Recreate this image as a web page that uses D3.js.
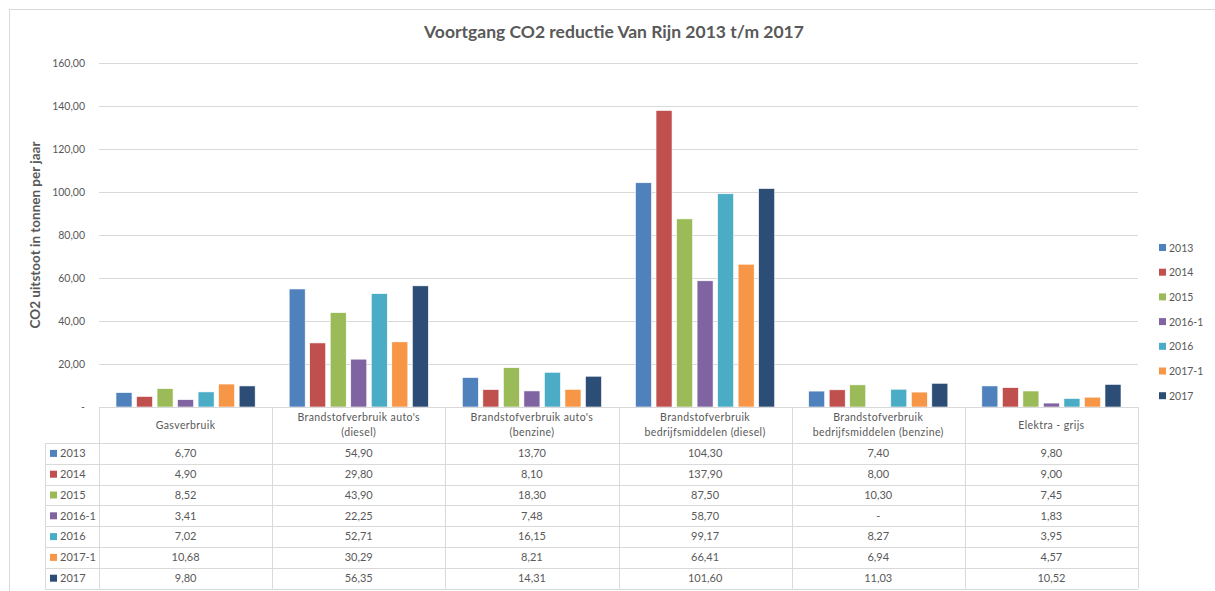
<!DOCTYPE html>
<html>
<head>
<meta charset="utf-8">
<title>Voortgang CO2 reductie Van Rijn 2013 t/m 2017</title>
<script src="https://cdnjs.cloudflare.com/ajax/libs/d3/7.8.5/d3.min.js"></script>
<style>
  body { margin: 0; background: #fff; }
  svg { font-family: Lato, "Open Sans", sans-serif; }
</style>
</head>
<body>
<div id="chart"></div>
<script>
// data
var categories = [
  ["Gasverbruik"],
  ["Brandstofverbruik auto's", "(diesel)"],
  ["Brandstofverbruik auto's", "(benzine)"],
  ["Brandstofverbruik", "bedrijfsmiddelen (diesel)"],
  ["Brandstofverbruik", "bedrijfsmiddelen (benzine)"],
  ["Elektra - grijs"]
]
var seriesNames = ["2013", "2014", "2015", "2016-1", "2016", "2017-1", "2017"]
var v2013  = [6.70, 54.90, 13.70, 104.30, 7.40, 9.80]
var v2014  = [4.90, 29.80, 8.10, 137.90, 8.00, 9.00]
var v2015  = [8.52, 43.90, 18.30, 87.50, 10.30, 7.45]
var v20161 = [3.41, 22.25, 7.48, 58.70, null, 1.83]
var v2016  = [7.02, 52.71, 16.15, 99.17, 8.27, 3.95]
var v20171 = [10.68, 30.29, 8.21, 66.41, 6.94, 4.57]
var v2017  = [9.80, 56.35, 14.31, 101.60, 11.03, 10.52]
var yTicks = [0, 20, 40, 60, 80, 100, 120, 140, 160]

var series = [v2013, v2014, v2015, v20161, v2016, v20171, v2017]
var colors = ["#4F81BD", "#C0504D", "#9BBB59", "#8064A2", "#4BACC6", "#F79646", "#2C4D75"]

var W = 1215, H = 591
var plotL = 99, plotR = 1138, plotT = 63, zeroY = 407
var rowH = 20.8, headH = 36

var svg = d3.select("#chart").append("svg")
  .attr("width", W).attr("height", H)

// chart frame
svg.append("rect").attr("x", 9.5).attr("y", 9.5).attr("width", 1220).attr("height", 600)
  .attr("fill", "none").attr("stroke", "#d9d9d9")

svg.append("text").attr("x", 614).attr("y", 38).attr("text-anchor", "middle")
  .style("font-size", "17.5px").style("font-weight", "bold").attr("fill", "#595959")
  .text("Voortgang CO2 reductie Van Rijn 2013 t/m 2017")

// scales
var y = d3.scaleLinear().domain([0, 160]).range([zeroY, plotT])
var x0 = d3.scaleBand().domain(d3.range(categories.length)).range([plotL, plotR])
var x1 = d3.scaleBand().domain(d3.range(seriesNames.length))
  .range([17, x0.bandwidth() - 17]).paddingInner(0.22)

// gridlines
svg.append("g").selectAll("line").data(yTicks.slice(1)).enter().append("line")
  .attr("x1", plotL).attr("x2", plotR)
  .attr("y1", function (d) { return Math.round(y(d)) + 0.5 })
  .attr("y2", function (d) { return Math.round(y(d)) + 0.5 })
  .attr("stroke", "#d9d9d9").attr("stroke-width", 1)

// y axis labels
var yAxis = d3.axisLeft(y).tickValues(yTicks).tickSize(0).tickPadding(14)
  .tickFormat(function (d) { return d === 0 ? "-" : d3.format(".2f")(d).replace(".", ",") })
var ya = svg.append("g").attr("transform", "translate(" + plotL + ",0)").call(yAxis)
ya.select(".domain").remove()
ya.selectAll("text").attr("fill", "#595959").style("font-size", "10.5px")
  .style("font-family", "Lato, sans-serif")

svg.append("text")
  .attr("transform", "translate(40," + ((plotT + zeroY) / 2) + ") rotate(-90)")
  .attr("text-anchor", "middle").style("font-size", "13.5px").style("font-weight", "bold")
  .attr("fill", "#595959").text("CO2 uitstoot in tonnen per jaar")

// bars
series.forEach(function (vals, si) {
  var pts = vals.map(function (v, i) { return { v: v, i: i } })
    .filter(function (d) { return d.v != null })
  svg.append("g").selectAll("rect").data(pts).enter()
    .append("rect")
    .attr("x", function (d) { return x0(d.i) + x1(si) })
    .attr("y", function (d) { return y(d.v) })
    .attr("width", x1.bandwidth())
    .attr("height", function (d) { return zeroY - y(d.v) })
    .attr("fill", colors[si])
    .attr("stroke", "#fff").attr("stroke-width", 0.6)
})

// legend
var lg = svg.append("g")
seriesNames.forEach(function (n, i) {
  var ly = 248 + i * 24.7
  lg.append("rect").attr("x", 1159).attr("y", ly - 4).attr("width", 7).attr("height", 7).attr("fill", colors[i])
  lg.append("text").attr("x", 1169).attr("y", ly + 3.5).style("font-size", "10.5px")
    .attr("fill", "#595959").text(n)
})

// data table
var tb = svg.append("g")
var tableBottom = zeroY + headH + rowH * seriesNames.length
var lineColor = "#d9d9d9"
tb.append("line").attr("x1", plotL).attr("x2", plotR).attr("y1", zeroY + 0.5).attr("y2", zeroY + 0.5)
  .attr("stroke", lineColor)
d3.range(seriesNames.length + 1).forEach(function (r) {
  var yy = Math.round(zeroY + headH + r * rowH) + 0.5
  tb.append("line").attr("x1", 45).attr("x2", plotR).attr("y1", yy).attr("y2", yy)
    .attr("stroke", lineColor)
})
tb.append("line").attr("x1", 45.5).attr("x2", 45.5).attr("y1", zeroY + headH).attr("y2", tableBottom)
  .attr("stroke", lineColor)
d3.range(categories.length + 1).forEach(function (c) {
  var xx = Math.round(plotL + c * x0.bandwidth()) + 0.5
  tb.append("line").attr("x1", xx).attr("x2", xx).attr("y1", zeroY).attr("y2", tableBottom)
    .attr("stroke", lineColor)
})
// header texts
categories.forEach(function (lines, c) {
  var cx = x0(c) + x0.bandwidth() / 2
  var t = tb.append("text").attr("text-anchor", "middle").style("font-size", "10.5px")
    .style("letter-spacing", "0.4px").attr("fill", "#595959")
  lines.forEach(function (l, k) {
    var base = zeroY + headH / 2 + 3.5 - (lines.length - 1) * 7.5
    t.append("tspan").attr("x", cx).attr("y", base + k * 15).text(l)
  })
})
// rows
var fmt = function (d) { return d == null ? "-" : d3.format(".2f")(d).replace(".", ",") }
seriesNames.forEach(function (n, r) {
  var cy = zeroY + headH + r * rowH + rowH / 2
  tb.append("rect").attr("x", 50).attr("y", cy - 3.5).attr("width", 7).attr("height", 7).attr("fill", colors[r])
  tb.append("text").attr("x", 60).attr("y", cy + 3.8).style("font-size", "11px")
    .attr("fill", "#595959").text(n)
  series[r].forEach(function (v, c) {
    tb.append("text").attr("x", x0(c) + x0.bandwidth() / 2).attr("y", cy + 3.8)
      .attr("text-anchor", "middle").style("font-size", "11px").attr("fill", "#595959")
      .text(fmt(v))
  })
})
</script>
</body>
</html>
